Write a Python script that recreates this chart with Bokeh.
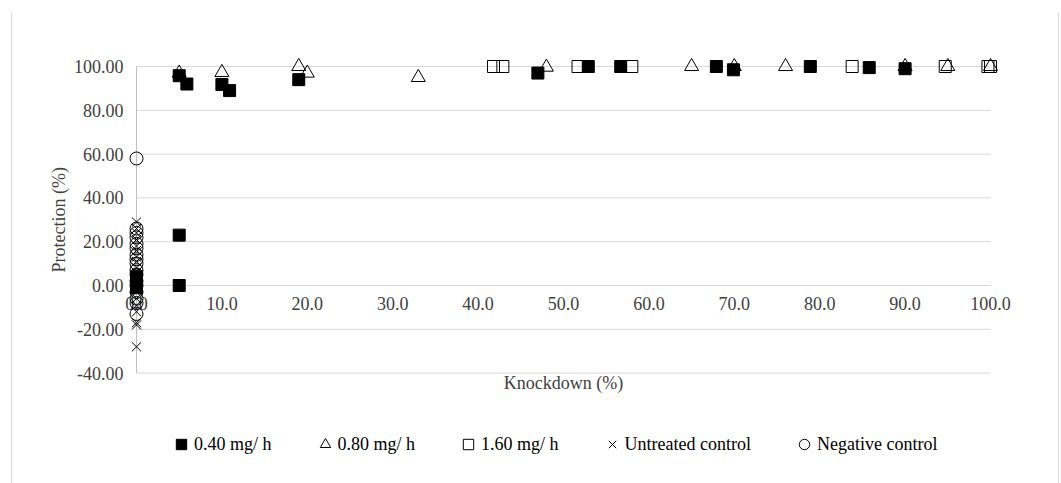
import math
from bokeh.plotting import figure
from bokeh.models import Range1d, Legend, LegendItem, Label
from bokeh.core.properties import value
from bokeh.embed import file_html
from bokeh.resources import INLINE

# ---------------- data ----------------
x_ticks = [0, 10, 20, 30, 40, 50, 60, 70, 80, 90, 100]
x_tick_labels = ["0.0", "10.0", "20.0", "30.0", "40.0", "50.0", "60.0",
                 "70.0", "80.0", "90.0", "100.0"]
y_ticks = [-40, -20, 0, 20, 40, 60, 80, 100]
y_tick_labels = ["-40.00", "-20.00", "0.00", "20.00", "40.00", "60.00",
                 "80.00", "100.00"]

s040_x = [0, 0, 0, 0, 5, 5, 5, 5.9, 10, 10.9, 19, 47, 52.9, 56.7, 67.9, 69.9, 78.9, 85.8, 90]
s040_y = [0, 2, 4, -1, 95.8, 23, 0, 92, 91.8, 89, 94, 97, 100, 100, 100, 98.5, 100, 99.5, 99]

s080_x = [5, 10, 19, 20, 33, 48, 65, 70, 76, 90, 95, 100]
s080_y = [97, 97.3, 100, 97, 95, 99.7, 100, 100, 100, 100, 100, 100]

s160_x = [41.8, 42.9, 51.7, 58, 83.8, 94.7, 99.7, 100]
s160_y = [100, 100, 100, 100, 100, 100, 100, 100]

untreated_x = [0] * 19
untreated_y = [29, 26, 24, 21, 18, 16, 13, 11, 8, 6, 3, 0, -3, -6, -9, -12, -17, -18, -28]

negative_x = [0] * 17
negative_y = [58, 26, 24, 22, 19, 17, 14, 12, 10, 7, 5, 2, 0, -3, -6, -8, -13]

x_min, x_max = 0, 100
y_min, y_max = -40, 100

# ---------------- layout ----------------
W, H = 1061, 483
X0_PX, X100_PX = 136, 990        # pixel columns of x = 0 and x = 100
Y100_PX, Y0_PX = 66, 285         # pixel rows of y = 100 and y = 0
kx = (X100_PX - X0_PX) / (x_max - x_min)
ky = (Y0_PX - Y100_PX) / (y_max - 0)
x_start = x_min - X0_PX / kx
x_end = x_min + (W - X0_PX) / kx
y_end = y_max + Y100_PX / ky
y_start = 0 - (H - Y0_PX) / ky

FONT = "Liberation Serif"
GRID = "#d9d9d9"
TXT = "#404040"

# the frame covers the whole page so that every text can be drawn in it
p = figure(width=W, height=H, x_range=Range1d(x_start, x_end),
           y_range=Range1d(y_start, y_end), output_backend="svg",
           toolbar_location=None, min_border=0)
p.background_fill_color = "white"
p.border_fill_color = "white"
p.outline_line_color = None
p.xgrid.visible = False
p.ygrid.visible = False
p.xaxis.visible = False
p.yaxis.visible = False

# chart-area border (left and right edges)
edge_top = y_end - 12 / ky
p.segment(x0=[x_start + 11 / kx, x_end - 3 / kx],
          x1=[x_start + 11 / kx, x_end - 3 / kx],
          y0=[edge_top, edge_top], y1=[y_start, y_start],
          line_color=GRID, line_width=1)

# horizontal gridlines
p.segment(x0=[x_min] * len(y_ticks), x1=[x_max] * len(y_ticks),
          y0=y_ticks, y1=y_ticks, line_color=GRID, line_width=1)
# vertical axis line at x = 0
p.segment(x0=[x_min], x1=[x_min], y0=[y_min], y1=[y_max],
          line_color="#bfbfbf", line_width=1)

# y tick labels
p.text(x=[x_min] * len(y_ticks), y=y_ticks, text=y_tick_labels,
       text_font=value(FONT), text_font_size="18px", text_color=TXT,
       text_align="right", text_baseline="middle", x_offset=-13)

# x tick labels next to the horizontal axis (crossing at y = 0)
p.text(x=x_ticks, y=[0] * len(x_ticks), text=x_tick_labels,
       text_font=value(FONT), text_font_size="18px", text_color=TXT,
       text_align="center", text_baseline="middle", y_offset=18)

# series
r1 = p.scatter(s040_x, s040_y, marker="square", size=12,
               fill_color="black", line_color="black")
r2 = p.scatter(s080_x, s080_y, marker="triangle", size=14,
               fill_color=None, line_color="black", line_width=1)
r3 = p.scatter(s160_x, s160_y, marker="square", size=12,
               fill_color=None, line_color="black", line_width=1)
r4 = p.scatter(untreated_x, untreated_y, marker="x", size=13,
               line_color="black", line_width=1)
r5 = p.scatter(negative_x, negative_y, marker="circle", size=13,
               fill_color=None, line_color="black", line_width=1)

# axis titles
p.add_layout(Label(x=x_min - 78 / kx, y=(y_min + y_max) / 2,
                   text="Protection (%)", angle=math.pi / 2,
                   text_font=FONT, text_font_size="18px", text_color=TXT,
                   text_align="center", text_baseline="middle"))
p.add_layout(Label(x=(x_min + x_max) / 2, y=y_min - 10 / ky,
                   text="Knockdown (%)",
                   text_font=FONT, text_font_size="18px", text_color=TXT,
                   text_align="center", text_baseline="middle"))

legend = Legend(items=[LegendItem(label="0.40 mg/ h", renderers=[r1]),
                       LegendItem(label="0.80 mg/ h", renderers=[r2]),
                       LegendItem(label="1.60 mg/ h", renderers=[r3]),
                       LegendItem(label="Untreated control", renderers=[r4]),
                       LegendItem(label="Negative control", renderers=[r5])],
                orientation="horizontal", location=(168, 26),
                border_line_color=None, background_fill_alpha=0,
                padding=0, margin=0, spacing=40, glyph_width=26,
                glyph_height=26, label_standoff=-9,
                label_text_font=FONT, label_text_font_size="18px",
                label_text_color="black")
p.add_layout(legend)

open("out.html", "w").write(file_html(p, INLINE))
